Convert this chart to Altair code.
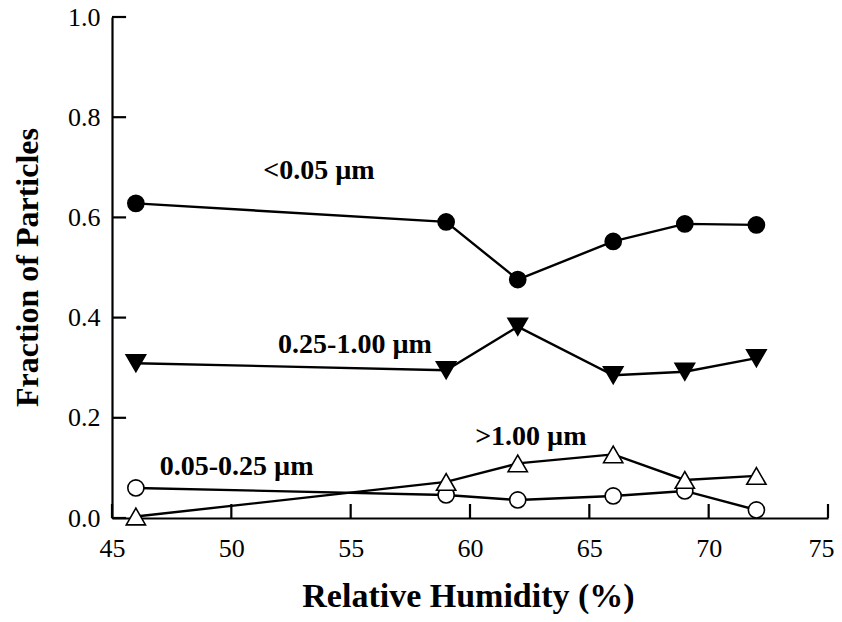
import altair as alt
import pandas as pd

rh = [46, 59, 62, 66, 69, 72]
lt_005 = [0.628, 0.591, 0.476, 0.552, 0.587, 0.585]
r_025_100 = [0.309, 0.295, 0.382, 0.285, 0.292, 0.319]
r_005_025 = [0.060, 0.046, 0.036, 0.044, 0.054, 0.016]
gt_100 = [0.003, 0.072, 0.109, 0.127, 0.076, 0.084]

series_names = ["<0.05 µm", "0.25-1.00 µm", "0.05-0.25 µm", ">1.00 µm"]
series_vals = [lt_005, r_025_100, r_005_025, gt_100]
series_shape = ["circle", "triangle-down", "circle", "triangle-up"]
series_fill = ["black", "black", "white", "white"]
series_size = [260, 380, 260, 370]

label_text = ["<0.05 µm", "0.25-1.00 µm", "0.05-0.25 µm", ">1.00 µm"]
label_x = [53.67, 55.18, 50.22, 62.55]
label_y = [0.692, 0.346, 0.102, 0.162]

x_ticks = [45, 50, 55, 60, 65, 70, 75]
y_ticks = [0.0, 0.2, 0.4, 0.6, 0.8, 1.0]

rows = []
for i, (name, vals) in enumerate(zip(series_names, series_vals)):
    for x, y in zip(rh, vals):
        rows.append({"rh": x, "frac": y, "series": name, "order": i})
df = pd.DataFrame(rows)
lab = pd.DataFrame({"text": label_text, "x": label_x, "y": label_y})
xt = pd.DataFrame({"t": x_ticks})
yt = pd.DataFrame({"t": y_ticks})

FONT = "Liberation Serif"
xscale = alt.Scale(domain=[45, 75], nice=False, zero=False)
yscale = alt.Scale(domain=[0, 1.0], nice=False)

yax = alt.Axis(values=y_ticks, format=".1f", title="Fraction of Particles", grid=False,
               ticks=False, labelPadding=12, labelFont=FONT, labelFontSize=26,
               labelColor="black", domainColor="black", domainWidth=2.2,
               titleFont=FONT, titleFontSize=32, titleFontWeight="bold", titleColor="black",
               titleX=-75, titleY=250, titleAngle=-90, titleBaseline="alphabetic",
               titleAlign="center", labelFlush=False)
xax = alt.Axis(values=x_ticks, format="d", title="Relative Humidity (%)", grid=False,
               ticks=False, labelPadding=17, labelFont=FONT, labelFontSize=26,
               labelColor="black", domainColor="black", domainWidth=2.2,
               labelOffset=alt.ExprRef("datum.value == 75 ? -7 : 0"),
               titleFont=FONT, titleFontSize=34, titleFontWeight="bold", titleColor="black",
               titleX=356, titleY=88, titleBaseline="alphabetic", titleAlign="center",
               labelFlush=False)

layers = []
# inward ticks
layers.append(alt.Chart(xt).mark_rule(color="black", strokeWidth=2.2).encode(
    x=alt.X("t:Q", scale=xscale, axis=xax),
    y=alt.datum(0, scale=yscale),
    y2=alt.datum(0.028),
))
layers.append(alt.Chart(yt).mark_rule(color="black", strokeWidth=2.2).encode(
    y=alt.Y("t:Q", scale=yscale, axis=yax),
    x=alt.datum(45, scale=xscale),
    x2=alt.datum(45.59),
))

for i, name in enumerate(series_names):
    sub = df[df.series == name]
    base = alt.Chart(sub)
    line = base.mark_line(color="black", strokeWidth=2.4).encode(
        x=alt.X("rh:Q", scale=xscale),
        y=alt.Y("frac:Q", scale=yscale),
    )
    pts = base.mark_point(shape=series_shape[i], filled=True, fill=series_fill[i],
                          stroke="black", strokeWidth=1.6, opacity=1,
                          size=series_size[i]).encode(
        x=alt.X("rh:Q", scale=xscale),
        y=alt.Y("frac:Q", scale=yscale),
    )
    layers += [line, pts]

texts = alt.Chart(lab).mark_text(font=FONT, fontSize=28, fontWeight="bold", color="black",
                                 align="center", baseline="middle").encode(
    x=alt.X("x:Q", scale=xscale),
    y=alt.Y("y:Q", scale=yscale),
    text="text:N",
)
layers.append(texts)

chart = alt.layer(*layers).properties(
    width=716, height=501,
    autosize=alt.AutoSizeParams(type="none"),
    padding={"left": 104, "top": 9, "right": 6, "bottom": 96},
).configure_view(stroke=None)

chart.save("out.html", embed_options={"renderer": "svg", "actions": False})
